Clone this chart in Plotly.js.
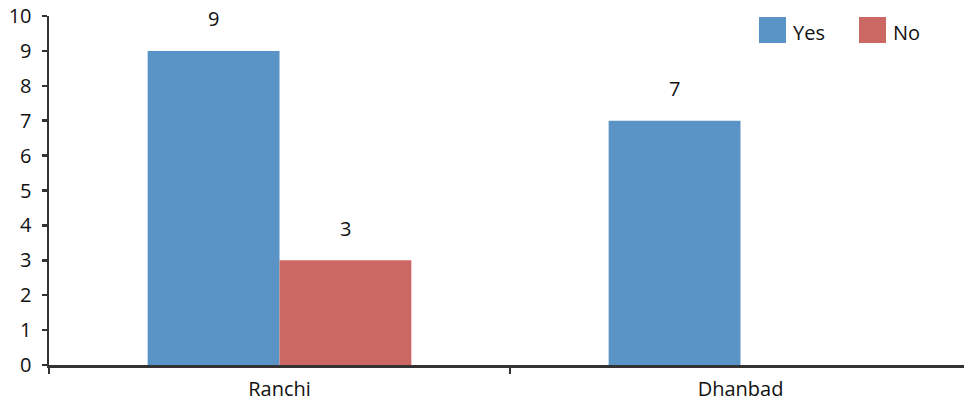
<!DOCTYPE html>
<html>
<head>
<meta charset="utf-8">
<script src="https://cdn.plot.ly/plotly-3.0.1.min.js"></script>
<style>html,body{margin:0;padding:0;overflow:hidden;background:#fff;width:964px;height:404px}</style>
</head>
<body>
<div id="chart"></div>
<script>
const categories = ["Ranchi", "Dhanbad"];
const seriesNames = ["Yes", "No"];
const yesValues = [9, 7];
const noValues = [3, 0];
const colors = ["#5A94C7", "#CB6863"];

const allValues = [yesValues, noValues];
const font = {family: "Open Sans, Noto Sans, sans-serif", size: 20, color: "#111"};

const traces = allValues.map((vals, i) => ({
  type: "bar",
  name: seriesNames[i],
  x: categories,
  y: vals,
  marker: {color: colors[i], line: {width: 0}},
  showlegend: false,
  hoverinfo: "none"
}));

const annotations = [];
const offs = [-66, 66];
allValues.forEach((vals, i) => {
  vals.forEach((v, j) => {
    if (v > 0) annotations.push({
      x: categories[j], y: v, xref: "x", yref: "y",
      text: String(v), showarrow: false, xshift: offs[i], yshift: 32,
      font: font
    });
  });
});

const W = 922;
const shapes = [];
const legX = [759, 859];
seriesNames.forEach((n, i) => {
  shapes.push({type: "rect", xref: "paper", yref: "paper",
    x0: (legX[i] - 49) / W, x1: (legX[i] + 27 - 49) / W,
    y0: (365 - 43) / 349, y1: (365 - 17) / 349,
    fillcolor: colors[i], line: {width: 0}});
  annotations.push({xref: "paper", yref: "paper",
    x: (legX[i] + 32 - 49) / W, y: (365 - 32) / 349,
    xanchor: "left", yanchor: "middle", text: n, showarrow: false, font: font});
});

const layout = {
  width: 49 + W + 5, height: 404,
  margin: {l: 49, r: 5, t: 16, b: 39},
  paper_bgcolor: "#fff", plot_bgcolor: "#fff",
  barmode: "group", bargap: 0.428, bargroupgap: 0,
  font: font,
  xaxis: {
    type: "category", showgrid: false, zeroline: false,
    showline: true, linecolor: "#333", linewidth: 2.5,
    ticks: "outside", tickson: "boundaries", ticklen: 6, tickwidth: 2.5, tickcolor: "#333",
    tickfont: font, ticklabelstandoff: 4, fixedrange: true
  },
  yaxis: {
    range: [0, 10], dtick: 1, showgrid: false, zeroline: false,
    showline: true, linecolor: "#333", linewidth: 2.5,
    ticks: "outside", ticklen: 5, tickwidth: 2.5, tickcolor: "#333",
    tickfont: font, ticklabelstandoff: 6, fixedrange: true
  },
  annotations: annotations,
  shapes: shapes,
  showlegend: false
};

Plotly.newPlot("chart", traces, layout, {displayModeBar: false, staticPlot: true});
</script>
</body>
</html>
